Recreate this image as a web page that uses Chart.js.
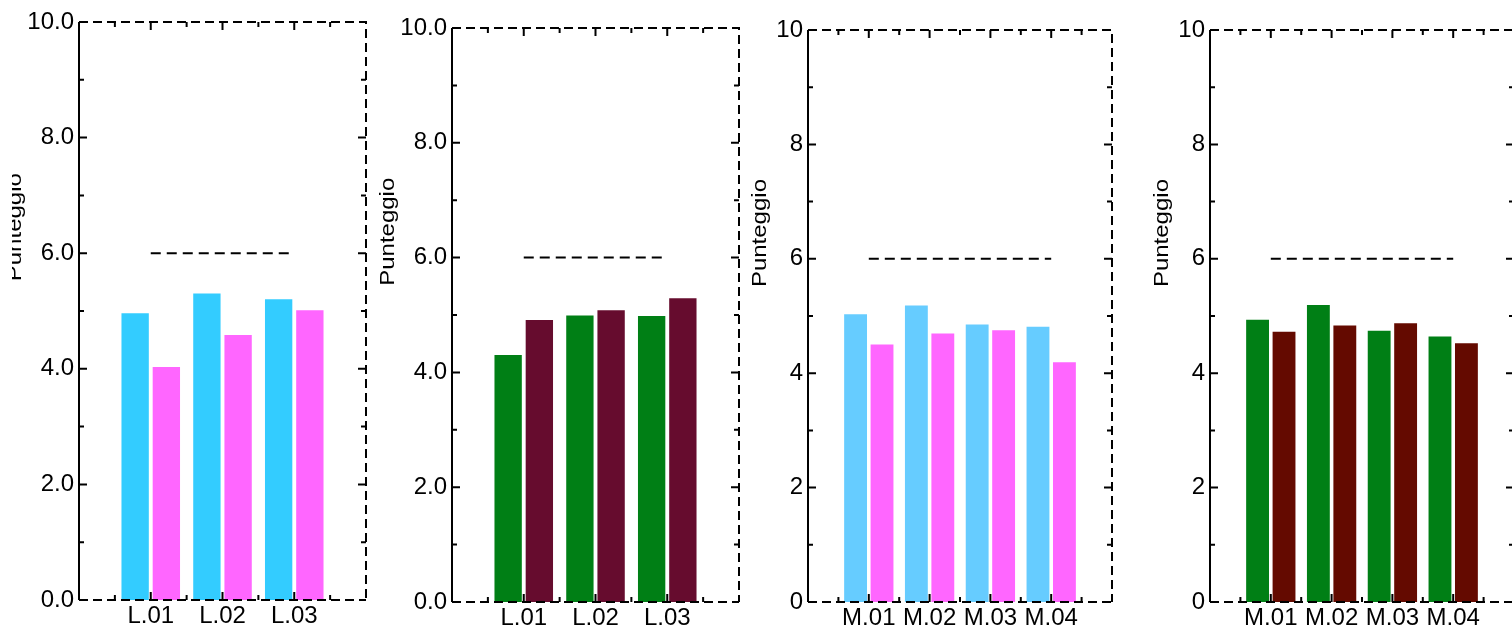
<!DOCTYPE html>
<html>
<head>
<meta charset="utf-8">
<script src="https://cdn.jsdelivr.net/npm/chart.js@4.4.0/dist/chart.umd.min.js"></script>
<style>
  html, body { margin: 0; padding: 0; background: #fff; overflow: hidden; width: 1512px; height: 628px; position: relative; }
  canvas { position: absolute; top: 0; }
</style>
</head>
<body>
<canvas id="c1" width="360" height="628" style="left:12px"></canvas>
<canvas id="c2" width="368" height="628" style="left:377px"></canvas>
<canvas id="c3" width="370" height="628" style="left:748px"></canvas>
<canvas id="c4" width="370" height="628" style="left:1150px"></canvas>
<script>
// categories
const labelsL = ['L.01', 'L.02', 'L.03'];
const labelsM = ['M.01', 'M.02', 'M.03', 'M.04'];
const threshold = 6;
const yTickValues = [0, 2, 4, 6, 8, 10];

// values
const p1Cyan = [4.98, 5.32, 5.22];
const p1Pink = [4.05, 4.60, 5.03];
const p2Green = [4.32, 5.01, 5.00];
const p2Maroon = [4.93, 5.10, 5.31];
const p3Cyan = [5.05, 5.20, 4.87, 4.83];
const p3Pink = [4.52, 4.71, 4.77, 4.21];
const p4Green = [4.95, 5.21, 4.76, 4.66];
const p4Maroon = [4.74, 4.85, 4.89, 4.54];

const FONT = '"Liberation Sans", Arial, Helvetica, sans-serif';

// dashed box, inward ticks and rotated y title
const framePlugin = {
    id: 'frame',
    afterDraw(chart, args, opts) {
        const { ctx, chartArea: a, scales: { x, y } } = chart;
        ctx.save();
        ctx.strokeStyle = '#000';
        ctx.lineWidth = 2;
        ctx.beginPath();
        ctx.moveTo(a.left, a.top);
        ctx.lineTo(a.left, a.bottom);
        ctx.stroke();

        ctx.setLineDash([9, 5]);
        ctx.beginPath();
        ctx.moveTo(a.left, a.top);
        ctx.lineTo(a.right, a.top);
        ctx.lineTo(a.right, a.bottom);
        ctx.stroke();
        ctx.beginPath();
        ctx.moveTo(a.left, a.bottom);
        ctx.lineTo(a.right, a.bottom);
        ctx.stroke();
        ctx.setLineDash([]);

        ctx.beginPath();
        for (let v = 1; v < 10; v++) {
            const py = y.getPixelForValue(v);
            const len = v % 2 ? 5 : 8;
            ctx.moveTo(a.left, py); ctx.lineTo(a.left + len, py);
            ctx.moveTo(a.right, py); ctx.lineTo(a.right - len, py);
        }
        const n = chart.data.labels.length - 1;
        for (let i = 0.5; i < n; i += 0.5) {
            const px = x.getPixelForValue(i);
            const len = i % 1 ? 5 : 8;
            ctx.moveTo(px, a.top); ctx.lineTo(px, a.top + len);
            ctx.moveTo(px, a.bottom); ctx.lineTo(px, a.bottom - len);
        }
        ctx.stroke();

        ctx.fillStyle = '#000';
        ctx.font = '20px ' + FONT;
        ctx.textAlign = 'center';
        ctx.textBaseline = 'middle';
        ctx.translate(a.left - opts.titleX, a.top + 0.355 * (a.bottom - a.top));
        ctx.rotate(-Math.PI / 2);
        ctx.scale(1.2, 1);
        ctx.fillText('Punteggio', 0, 0);
        ctx.restore();
    }
};

function makePanel(id, cats, seriesA, seriesB, colorA, colorB, opt) {
    const labels = ['', ...cats, ''];
    const pad = v => [null, ...v, null];
    return new Chart(document.getElementById(id), {
        type: 'bar',
        data: {
            labels: labels,
            datasets: [
                {
                    type: 'line',
                    data: pad(cats.map(() => threshold)),
                    borderColor: '#000',
                    borderWidth: 2,
                    borderDash: [10, 6],
                    pointRadius: 0,
                    order: 0
                },
                {
                    data: pad(seriesA),
                    backgroundColor: colorA,
                    borderColor: 'rgba(255,255,255,0.45)',
                    borderWidth: 1,
                    categoryPercentage: 0.87,
                    barPercentage: 0.94,
                    order: 1
                },
                {
                    data: pad(seriesB),
                    backgroundColor: colorB,
                    borderColor: 'rgba(255,255,255,0.45)',
                    borderWidth: 1,
                    categoryPercentage: 0.87,
                    barPercentage: 0.94,
                    order: 1
                }
            ]
        },
        options: {
            responsive: false,
            animation: false,
            layout: { padding: { top: opt.top, right: 6, bottom: 0, left: 0 } },
            plugins: {
                legend: { display: false },
                tooltip: { enabled: false },
                frame: { titleX: opt.titleX }
            },
            scales: {
                x: {
                    offset: false,
                    grid: { display: false, drawTicks: false },
                    border: { display: false },
                    ticks: {
                        autoSkip: false,
                        maxRotation: 0,
                        padding: 4,
                        color: '#000',
                        font: { family: FONT, size: 24, lineHeight: 1 }
                    },
                    afterFit(scale) { scale.height = opt.xHeight; }
                },
                y: {
                    min: 0,
                    max: 10,
                    afterBuildTicks(scale) { scale.ticks = yTickValues.map(v => ({ value: v })); },
                    grid: { display: false, drawTicks: false },
                    border: { display: false },
                    ticks: {
                        padding: 5,
                        color: '#000',
                        font: { family: FONT, size: 24, lineHeight: 1 },
                        callback: v => opt.decimals ? v.toFixed(1) : String(v)
                    },
                    afterFit(scale) { scale.width = opt.yWidth; }
                }
            }
        },
        plugins: [framePlugin]
    });
}

makePanel('c1', labelsL, p1Cyan, p1Pink, '#33CCFF', '#FF66FF',
    { top: 22, xHeight: 28, yWidth: 67, titleX: 64, decimals: true });
makePanel('c2', labelsL, p2Green, p2Maroon, '#007F15', '#660C2E',
    { top: 28, xHeight: 26, yWidth: 75, titleX: 64, decimals: true });
makePanel('c3', labelsM, p3Cyan, p3Pink, '#66CCFF', '#FF66FF',
    { top: 30, xHeight: 26, yWidth: 60, titleX: 48, decimals: false });
makePanel('c4', labelsM, p4Green, p4Maroon, '#007F15', '#640A00',
    { top: 30, xHeight: 26, yWidth: 60, titleX: 48, decimals: false });
</script>
</body>
</html>
